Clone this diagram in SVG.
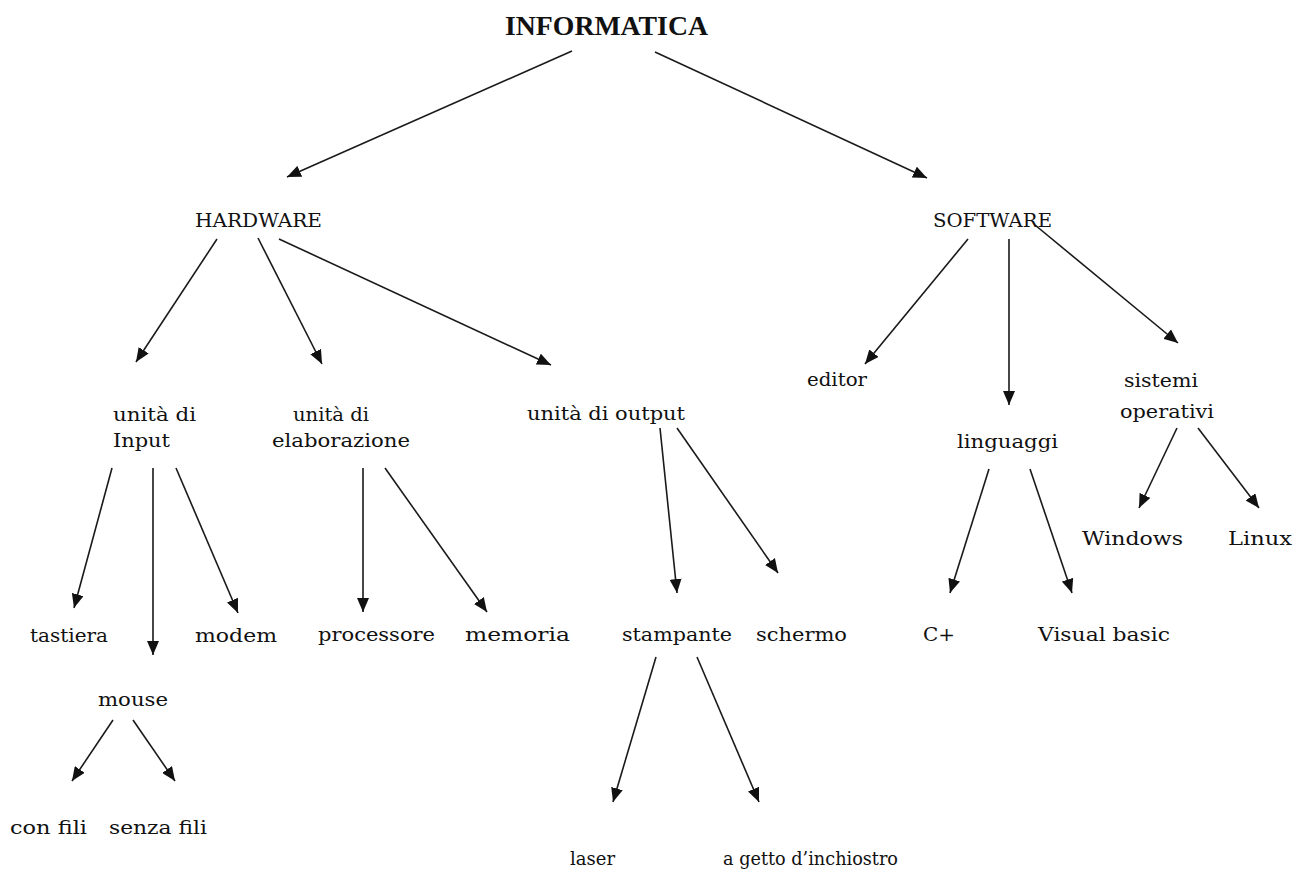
<svg xmlns="http://www.w3.org/2000/svg" width="1294" height="870" viewBox="0 0 1294 870">
<defs>
<style>
text{font-family:"DejaVu Serif","Liberation Serif",serif;font-size:18px;fill:#111;}
.title{font-family:"Liberation Serif","Times New Roman",serif;font-size:27px;font-weight:bold;}
.c line{stroke:#1a1a1a;stroke-width:1.6;marker-end:url(#ah);}
</style>
<marker id="ah" markerUnits="userSpaceOnUse" markerWidth="14" markerHeight="12" refX="14" refY="6" orient="auto" viewBox="0 0 14 12">
<path d="M0,0 L14,6 L0,12 z" fill="#111"/>
</marker>
</defs>
<rect width="1294" height="870" fill="#fff"/>
<g id="connectors" class="c">
<line x1="572" y1="51" x2="287" y2="177"/>
<line x1="655" y1="52" x2="927" y2="178"/>
<line x1="217" y1="239" x2="136" y2="362"/>
<line x1="258" y1="238" x2="322" y2="364"/>
<line x1="279" y1="239" x2="551" y2="365"/>
<line x1="968" y1="239" x2="865" y2="364"/>
<line x1="1009" y1="239" x2="1009" y2="405"/>
<line x1="1035" y1="225" x2="1178" y2="343"/>
<line x1="112" y1="468" x2="74" y2="608"/>
<line x1="153" y1="468" x2="153" y2="655"/>
<line x1="176" y1="468" x2="238" y2="613"/>
<line x1="363" y1="468" x2="363" y2="612"/>
<line x1="385" y1="468" x2="487" y2="612"/>
<line x1="660" y1="428" x2="677" y2="593"/>
<line x1="677" y1="428" x2="778" y2="573"/>
<line x1="989" y1="469" x2="950" y2="593"/>
<line x1="1030" y1="469" x2="1072" y2="593"/>
<line x1="1177" y1="428" x2="1139" y2="508"/>
<line x1="1198" y1="428" x2="1259" y2="508"/>
<line x1="113" y1="720" x2="72" y2="781"/>
<line x1="133" y1="720" x2="175" y2="781"/>
<line x1="656" y1="657" x2="613" y2="802"/>
<line x1="697" y1="657" x2="759" y2="802"/>
</g>
<g id="informatica"><text class="title" x="505" y="35" textLength="203" lengthAdjust="spacingAndGlyphs">INFORMATICA</text></g>
<g id="hardware"><text x="195" y="227" textLength="127" lengthAdjust="spacingAndGlyphs">HARDWARE</text></g>
<g id="software"><text x="933" y="227" textLength="119" lengthAdjust="spacingAndGlyphs">SOFTWARE</text></g>
<g id="input"><text x="113" y="421" textLength="83" lengthAdjust="spacingAndGlyphs">unità di</text><text x="113" y="447" textLength="57" lengthAdjust="spacingAndGlyphs">Input</text></g>
<g id="elaborazione"><text x="293" y="421" textLength="76" lengthAdjust="spacingAndGlyphs">unità di</text><text x="272" y="447" textLength="138" lengthAdjust="spacingAndGlyphs">elaborazione</text></g>
<g id="output"><text x="527" y="420" textLength="158" lengthAdjust="spacingAndGlyphs">unità di output</text></g>
<g id="editor"><text x="807" y="386" textLength="60" lengthAdjust="spacingAndGlyphs">editor</text></g>
<g id="linguaggi"><text x="957" y="448" textLength="101" lengthAdjust="spacingAndGlyphs">linguaggi</text></g>
<g id="sistemi"><text x="1124" y="387" textLength="74" lengthAdjust="spacingAndGlyphs">sistemi</text><text x="1120" y="418" textLength="94" lengthAdjust="spacingAndGlyphs">operativi</text></g>
<g id="windows"><text x="1082" y="545" textLength="101" lengthAdjust="spacingAndGlyphs">Windows</text></g>
<g id="linux"><text x="1228" y="545" textLength="64" lengthAdjust="spacingAndGlyphs">Linux</text></g>
<g id="tastiera"><text x="30" y="642" textLength="78" lengthAdjust="spacingAndGlyphs">tastiera</text></g>
<g id="modem"><text x="195" y="642" textLength="82" lengthAdjust="spacingAndGlyphs">modem</text></g>
<g id="processore"><text x="318" y="641" textLength="117" lengthAdjust="spacingAndGlyphs">processore</text></g>
<g id="memoria"><text x="465" y="641" textLength="105" lengthAdjust="spacingAndGlyphs">memoria</text></g>
<g id="stampante"><text x="622" y="641" textLength="110" lengthAdjust="spacingAndGlyphs">stampante</text></g>
<g id="schermo"><text x="756" y="641" textLength="91" lengthAdjust="spacingAndGlyphs">schermo</text></g>
<g id="cplus"><text x="923" y="641" textLength="32" lengthAdjust="spacingAndGlyphs">C+</text></g>
<g id="visualbasic"><text x="1038" y="641" textLength="132" lengthAdjust="spacingAndGlyphs">Visual basic</text></g>
<g id="mouse"><text x="98" y="706" textLength="70" lengthAdjust="spacingAndGlyphs">mouse</text></g>
<g id="confili"><text x="10" y="834" textLength="77" lengthAdjust="spacingAndGlyphs">con fili</text></g>
<g id="senzafili"><text x="109" y="834" textLength="98" lengthAdjust="spacingAndGlyphs">senza fili</text></g>
<g id="laser"><text x="570" y="865" textLength="45" lengthAdjust="spacingAndGlyphs">laser</text></g>
<g id="agetto"><text x="723" y="865" textLength="175" lengthAdjust="spacingAndGlyphs">a getto d’inchiostro</text></g>
</svg>
